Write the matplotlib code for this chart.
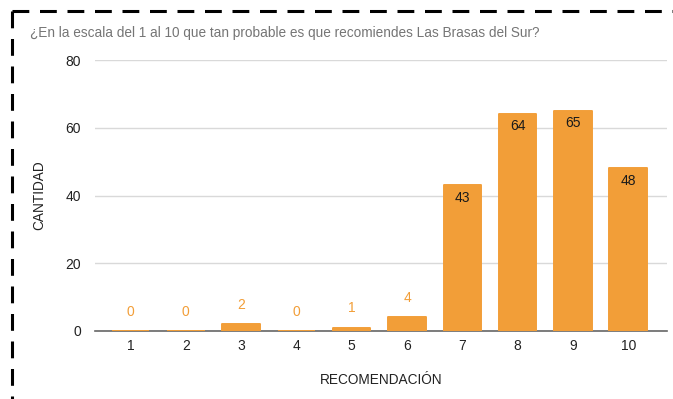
import matplotlib.pyplot as plt
from matplotlib.lines import Line2D

plt.rcParams['font.family'] = ['Liberation Sans', 'DejaVu Sans']

# survey answers: score -> number of people
scores = ['1', '2', '3', '4', '5', '6', '7', '8', '9', '10']
counts = [0, 0, 2, 0, 1, 4, 43, 64, 65, 48]
yticks = [0, 20, 40, 60, 80]

orange = '#F29E38'
W, H = 673, 399

fig = plt.figure(figsize=(W / 100, H / 100), dpi=100)
fig.patch.set_facecolor('white')
ax = fig.add_axes([95 / W, (H - 331) / H, (667 - 95) / W, (331 - 60) / H])

x = list(range(1, len(scores) + 1))
ax.spines['bottom'].set_zorder(2)
ax.bar(x, counts, width=0.68, color=orange, edgecolor=orange, linewidth=1.4,
       joinstyle='round', zorder=3)

for xi, c in zip(x, counts):
    if c >= 20:
        ax.text(xi, c - 3.6, str(c), ha='center', va='center', fontsize=10,
                color='#1a1a1a', zorder=4)
    else:
        ax.text(xi, c + 5.7, str(c), ha='center', va='center', fontsize=10,
                color=orange, zorder=4)

ax.set_xlim(0.36, 10.7)
ax.set_ylim(0, 80)
ax.set_yticks(yticks)
ax.set_xticks(x)
ax.set_xticklabels(scores)
ax.tick_params(axis='both', length=0, labelsize=10, colors='#222222')
ax.tick_params(axis='y', pad=10)
ax.tick_params(axis='x', pad=6)
ax.grid(axis='y', color='#d9d9d9', linewidth=1, zorder=0)
for s in ['top', 'right', 'left']:
    ax.spines[s].set_visible(False)
ax.spines['bottom'].set_color('#666666')
ax.spines['bottom'].set_linewidth(1.2)

ax.set_xlabel('RECOMENDACIÓN', fontsize=9.8, color='#222222', labelpad=14)
ax.set_ylabel('CANTIDAD', fontsize=9.8, color='#222222', labelpad=14)

fig.text(30 / W, 1 - 33 / H, '¿En la escala del 1 al 10 que tan probable es que recomiendes Las Brasas del Sur?',
         fontsize=9.8, color='#757575', ha='left', va='center')

# dashed frame along the top and left edges
fig.add_artist(Line2D([12 / W, 1], [1 - 11 / H, 1 - 11 / H], transform=fig.transFigure,
                      color='black', linewidth=2.2, linestyle=(0, (5.5, 3.5))))
fig.add_artist(Line2D([12 / W, 12 / W], [1 - 11 / H, 0], transform=fig.transFigure,
                      color='black', linewidth=2.2, linestyle=(0, (5.5, 3.5))))

fig.savefig('out.png', dpi=100)
